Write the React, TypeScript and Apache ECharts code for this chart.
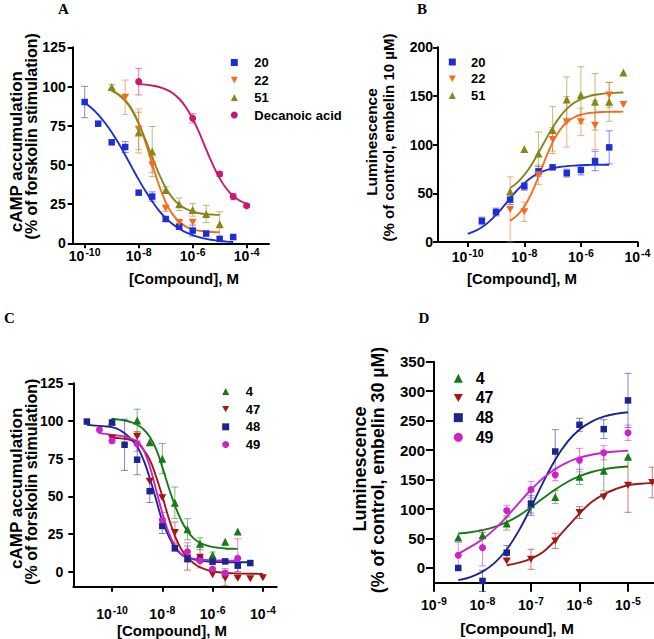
import { useEffect, useRef } from "react";
import * as echarts from "echarts";

const FONT = '"Liberation Sans", Arial, sans-serif';

// ---------- Panel A (cAMP, compounds 20, 22, 51, decanoic acid) ----------
const a20X = [-10, -9.5, -9, -8.5, -8, -7.5, -7, -6.5, -6, -5.5, -5, -4.5];
const a20Y = [90.1, 76.3, 64.4, 61.4, 32.3, 29.8, 15.5, 10.6, 8.1, 6.2, 2.8, 4.0];
const a20E = [10, 0, 0, 3.5, 0, 3, 1.5, 1.5, 3.5, 0, 0, 0];
const a22X = [-8.5, -8, -7.5, -7, -6.5, -6];
const a22Y = [93.1, 72.7, 50, 22.3, 13.2, 13.4];
const a22E = [11, 13, 5, 2, 1.5, 0];
const a51X = [-9, -8, -7.5, -7, -6.5, -6, -5.5, -5];
const a51Y = [99.7, 70.6, 58.5, 34, 24.9, 21.3, 18.7, 12.1];
const a51E = [1.5, 13, 16, 2, 4, 4, 5.5, 8];
const aDecX = [-8, -6, -5, -4.5, -4];
const aDecY = [103.1, 79.7, 44.2, 29.8, 24];
const aDecE = [8.5, 3, 1.5, 2, 1];

// fitted curves, read every quarter decade
const a20FitX = [-10, -9.75, -9.5, -9.25, -9, -8.75, -8.5, -8.25, -8, -7.75, -7.5, -7.25, -7, -6.75, -6.5, -6.25, -6, -5.75, -5.5, -5.25, -5, -4.75, -4.5];
const a20FitY = [89.6, 86.3, 82.1, 76.9, 70.8, 63.9, 56.3, 48.4, 40.6, 33.3, 26.7, 20.9, 16.2, 12.3, 9.3, 6.9, 5.2, 3.8, 2.8, 2.1, 1.5, 1.1, 0.8];
const a22FitX = [-9, -8.75, -8.5, -8.25, -8, -7.75, -7.5, -7.25, -7, -6.75, -6.5, -6.25, -6, -5.75, -5.5, -5.25, -5];
const a22FitY = [97.3, 95.1, 91.5, 85.5, 76.4, 64.5, 50.6, 37.2, 26.3, 18.6, 13.7, 10.65, 8.9, 8.0, 7.5, 7.2, 7.0];
const a51FitX = [-9, -8.75, -8.5, -8.25, -8, -7.75, -7.5, -7.25, -7, -6.75, -6.5, -6.25, -6, -5.75, -5.5, -5.25, -5];
const a51FitY = [97.3, 94.8, 90.8, 84.9, 76.5, 66.1, 54.9, 44.3, 35.4, 29.0, 24.7, 21.9, 20.3, 19.2, 18.6, 18.3, 18.1];
const aDecFitX = [-8, -7.75, -7.5, -7.25, -7, -6.75, -6.5, -6.25, -6, -5.75, -5.5, -5.25, -5, -4.75, -4.5, -4.25, -4];
const aDecFitY = [101.5, 101.2, 100.6, 99.7, 98.2, 95.9, 92.2, 86.8, 79.4, 70.2, 59.9, 50, 41.4, 34.8, 30.2, 27.1, 25.1];

// ---------- Panel B (luminescence, embelin 10 µM) ----------
const b20X = [-9.5, -9, -8.5, -8, -7.5, -7, -6.5, -6, -5.5, -5];
const b20Y = [21.6, 30.8, 43.5, 57.2, 72.6, 76.7, 70.8, 73.9, 83.2, 97.2];
const b20E = [4, 4, 5, 4, 5, 0, 4, 5, 10, 17];
const b22X = [-8.5, -8, -7.5, -7, -6.5, -6, -5.5, -5, -4.5];
const b22Y = [33.5, 31.1, 69.1, 105.4, 123.5, 123.5, 120, 151, 141.3];
const b22E = [33.5, 10, 10, 12, 26, 14, 25, 13, 0];
const b51X = [-8.5, -8, -7.5, -7, -6.5, -6, -5.5, -5, -4.5];
const b51Y = [52, 95.5, 91, 115, 146.5, 151, 144, 144, 174.2];
const b51E = [0, 0, 22, 24, 23, 29, 29, 20, 0];

const b20FitX = [-10, -9.75, -9.5, -9.25, -9, -8.75, -8.5, -8.25, -8, -7.75, -7.5, -7.25, -7, -6.75, -6.5, -6.25, -6, -5.75, -5.5, -5.25, -5];
const b20FitY = [8.4, 11.2, 15.2, 20.7, 27.8, 36, 44.8, 53.2, 60.5, 66.3, 70.6, 73.6, 75.7, 77.1, 77.9, 78.5, 78.9, 79.1, 79.3, 79.35, 79.4];
const b22FitX = [-8.5, -8.25, -8, -7.75, -7.5, -7.25, -7, -6.75, -6.5, -6.25, -6, -5.75, -5.5, -5.25, -5, -4.75, -4.5];
const b22FitY = [21.9, 27.4, 36.4, 49.7, 67, 85.7, 102.3, 114.8, 123, 127.9, 130.7, 132.2, 133, 133.5, 133.7, 133.8, 133.9];
const b51FitX = [-8.5, -8.25, -8, -7.75, -7.5, -7.25, -7, -6.75, -6.5, -6.25, -6, -5.75, -5.5, -5.25, -5, -4.75, -4.5];
const b51FitY = [55.4, 61, 68.9, 79.2, 91.6, 104.8, 117.5, 128.3, 136.7, 142.7, 146.8, 149.4, 151.2, 152.2, 152.9, 153.3, 153.6];

// ---------- Panel C (cAMP, compounds 4, 47, 48, 49) ----------
const c4X = [-10, -9, -8.5, -8, -7.5, -7, -6.5, -6, -5.5, -5];
const c4Y = [99.6, 100.3, 85.8, 75, 45.7, 28.1, 18.5, 11, 19.8, 26.6];
const c4E = [0, 7.5, 0, 10, 10.5, 7, 4, 2, 0, 0];
const c47X = [-10, -9, -8.5, -8, -7.5, -7, -6.5, -6, -5.5, -5, -4.5, -4];
const c47Y = [88.6, 89.7, 60, 49, 25.9, 9, 9.5, -2, -4.4, -4.4, -4.8, -4];
const c47E = [2, 3, 0, 0, 7, 8, 7, 0, 5, 0, 0, 0];
const c48X = [-11, -10, -9.5, -9, -8.5, -8, -7.5, -7, -6.5, -6, -5.5, -5, -4.5];
const c48Y = [99.6, 99, 84.2, 74.3, 53.4, 30.3, 15.6, 8.4, 8, 6.6, 6.8, 4, 5.7];
const c48E = [0, 0, 17, 10, 7.5, 5, 2, 2, 0, 0, 0, 4, 0];
const c49X = [-10.5, -10, -9, -8, -7, -6.5, -6, -5.5, -5];
const c49Y = [94.1, 86.9, 84.9, 34.3, 13.2, 7.3, 1.8, -0.9, 8.8];
const c49E = [0, 2, 5, 5, 6, 0, 0, 3, 13];

const c4FitX = [-10, -9.75, -9.5, -9.25, -9, -8.75, -8.5, -8.25, -8, -7.75, -7.5, -7.25, -7, -6.75, -6.5, -6.25, -6, -5.75, -5.5, -5.25, -5];
const c4FitY = [101.5, 101, 100.3, 99.2, 97.5, 94.5, 89.5, 81.5, 69.5, 56, 44, 34.1, 26.9, 22.1, 19.1, 17.4, 16.4, 15.8, 15.4, 15.2, 15.1];
const c47FitX = [-10, -9.75, -9.5, -9.25, -9, -8.75, -8.5, -8.25, -8, -7.75, -7.5, -7.25, -7, -6.75, -6.5, -6.25, -6, -5.75, -5.5, -5.25, -5, -4.75, -4.5, -4.25, -4];
const c47FitY = [89, 88.6, 88.2, 87.3, 85.8, 81, 74.3, 63.3, 50.1, 35.8, 23.7, 15, 9.5, 5.6, 2.9, 1.3, 0.2, -0.4, -0.9, -1.1, -1.3, -1.35, -1.4, -1.45, -1.5];
const c48FitX = [-11, -10.75, -10.5, -10.25, -10, -9.75, -9.5, -9.25, -9, -8.75, -8.5, -8.25, -8, -7.75, -7.5, -7.25, -7, -6.75, -6.5, -6.25, -6, -5.75, -5.5, -5.25, -5, -4.75, -4.5];
const c48FitY = [97.4, 97.1, 96.7, 96.4, 95.9, 94.5, 91.9, 88.2, 83.1, 74.3, 62.2, 48, 33.6, 23.7, 16, 11.6, 9.5, 8.2, 7.3, 6.9, 6.6, 6.4, 6.3, 6.25, 6.2, 6.2, 6.2];
const c49FitX = [-10.5, -10.25, -10, -9.75, -9.5, -9.25, -9, -8.75, -8.5, -8.25, -8, -7.75, -7.5, -7.25, -7, -6.75, -6.5, -6.25, -6, -5.75, -5.5, -5.25, -5];
const c49FitY = [91.9, 91.4, 90.8, 90.3, 89.7, 88.3, 86.4, 81, 70, 54.5, 39.1, 26, 17.2, 11.7, 9.5, 8.6, 8, 7.7, 7.5, 7.4, 7.3, 7.3, 7.3];

// ---------- Panel D (luminescence, embelin 30 µM) ----------
const d4X = [-8.5, -8, -7.5, -7, -6.5, -6, -5.5, -5];
const d4Y = [51.5, 55.5, 75.3, 108.2, 120.6, 154.6, 164.8, 188.6];
const d4E = [0, 5, 11, 15, 11, 13, 34, 0];
const d47X = [-7.5, -7, -6.5, -6, -5.5, -5, -4.5];
const d47Y = [11.9, 14.7, 45.9, 94, 120.6, 140.4, 145];
const d47E = [0, 17, 13, 10, 0, 46, 26];
const d48X = [-8.5, -8, -7.5, -7, -6.5, -6, -5.5, -5];
const d48Y = [0, -22, 26, 109.3, 197.6, 243, 235.6, 284.3];
const d48E = [0, 18, 12, 20, 37, 11, 16, 46];
const d49X = [-8.5, -8, -7.5, -7, -6.5, -6, -5.5, -5];
const d49Y = [21.5, 34.5, 97.4, 133, 158, 183, 195.4, 229.4];
const d49E = [22, 31, 9, 14, 10, 20, 12, 13];

const d4FitX = [-8.5, -8.25, -8, -7.75, -7.5, -7.25, -7, -6.75, -6.5, -6.25, -6, -5.75, -5.5, -5.25, -5];
const d4FitY = [58.4, 60.7, 64.2, 69.7, 77.8, 88.9, 102.8, 118.2, 133, 145.9, 155.8, 162.8, 167.4, 170.4, 172.2];
const d47FitX = [-7.5, -7.25, -7, -6.75, -6.5, -6.25, -6, -5.75, -5.5, -5.25, -5, -4.75, -4.5];
const d47FitY = [4.5, 9, 15.9, 27.2, 47, 69.7, 92.3, 112, 125, 134, 140.4, 143, 144.4];
const d48FitX = [-8.5, -8.25, -8, -7.75, -7.5, -7.25, -7, -6.75, -6.5, -6.25, -6, -5.75, -5.5, -5.25, -5];
const d48FitY = [-20.7, -15.4, -6.2, 8.6, 31.4, 63.4, 103, 145.3, 183.7, 213.8, 234.9, 248.4, 256.7, 261.5, 264.3];
const d49FitX = [-8.5, -8.25, -8, -7.75, -7.5, -7.25, -7, -6.75, -6.5, -6.25, -6, -5.75, -5.5, -5.25, -5];
const d49FitY = [24, 35.7, 48.7, 66, 87, 110.2, 132.7, 152.4, 168, 179.3, 187.1, 192.2, 195.5, 197.6, 198.9];

// ---------- tick values (log10 exponents / percentages) ----------
const xTicksABC = [-10, -8, -6, -4];
const xTicksD = [-9, -8, -7, -6, -5];
const yTicksA = [0, 25, 50, 75, 100, 125];
const yTicksB = [0, 50, 100, 150, 200];
const yTicksC = [0, 25, 50, 75, 100, 125];
const yTicksD = [0, 50, 100, 150, 200, 250, 300, 350];

// ---------- styling ----------
const BLUE = "#1f2ed0";
const ORANGE = "#f46c20";
const OLIVE = "#86861a";
const CRIMSON = "#cc1670";
const GREEN = "#177a17";
const DRED = "#a31616";
const NAVY = "#1c2490";
const MAGENTA = "#cc22cc";

const SQ = "rect";
const UP = "triangle";
const DOWN = "path://M0,0L10,0L5,9Z";
const CIRC = "circle";

function rgba(hex: string, a: number) {
  const n = parseInt(hex.slice(1), 16);
  return `rgba(${(n >> 16) & 255},${(n >> 8) & 255},${n & 255},${a})`;
}

function zip(xs: number[], ys: number[]) {
  return xs.map((x, i) => [x, ys[i]]);
}

function fit(id: string, xs: number[], ys: number[], color: string, g: number) {
  return {
    type: "line",
    name: id + " fit",
    xAxisIndex: g,
    yAxisIndex: g,
    data: zip(xs, ys),
    smooth: 0.4,
    showSymbol: false,
    symbol: "none",
    silent: true,
    lineStyle: { color, width: 1.9 },
    z: 2,
  };
}

function errs(id: string, xs: number[], ys: number[], es: number[], color: string, g: number) {
  const stroke = rgba(color, 0.55);
  return {
    type: "custom",
    name: id + " err",
    xAxisIndex: g,
    yAxisIndex: g,
    silent: true,
    z: 3,
    data: xs.map((x, i) => [x, ys[i], es[i]]),
    encode: { x: 0, y: 1 },
    renderItem: (_p: any, api: any) => {
      const x = api.value(0);
      const y = api.value(1);
      const e = api.value(2);
      if (!e) return null;
      const p1 = api.coord([x, y + e]);
      const p2 = api.coord([x, y - e]);
      const hw = 3.5;
      const style = { stroke, lineWidth: 1 };
      return {
        type: "group",
        children: [
          { type: "line", shape: { x1: p1[0], y1: p1[1], x2: p2[0], y2: p2[1] }, style },
          { type: "line", shape: { x1: p1[0] - hw, y1: p1[1], x2: p1[0] + hw, y2: p1[1] }, style },
          { type: "line", shape: { x1: p2[0] - hw, y1: p2[1], x2: p2[0] + hw, y2: p2[1] }, style },
        ],
      };
    },
  };
}

function pts(name: string, xs: number[], ys: number[], color: string, symbol: string, size: any, g: number) {
  return {
    type: "scatter",
    name,
    xAxisIndex: g,
    yAxisIndex: g,
    data: zip(xs, ys),
    symbol,
    symbolSize: size,
    itemStyle: { color, opacity: 1 },
    z: 4,
  };
}

function group(name: string, xs: number[], ys: number[], es: number[], fx: number[], fy: number[], color: string, symbol: string, size: any, g: number) {
  return [fit(name + g, fx, fy, color, g), errs(name + g, xs, ys, es, color, g), pts(name, xs, ys, color, symbol, size, g)];
}

const supRich = (big: number, small: number) => ({
  b: { fontSize: big, fontWeight: "bold", fontFamily: FONT, color: "#000" },
  s: { fontSize: small, fontWeight: "bold", fontFamily: FONT, color: "#000", padding: [0, 0, 8, 1] },
});

function xAxis(g: number, min: number, max: number, ticks: number[], tickLen: number, margin: number) {
  return {
    type: "value",
    gridIndex: g,
    min,
    max,
    axisLine: { show: true, onZero: false, lineStyle: { color: "#000", width: 2 } },
    axisTick: { show: true, length: tickLen, lineStyle: { color: "#000", width: 2 }, customValues: ticks },
    axisLabel: {
      customValues: ticks,
      margin,
      formatter: (v: number) => `{b|10}{s|${v}}`,
      rich: supRich(14, 10.5),
    },
    splitLine: { show: false },
  };
}

function yAxis(g: number, min: number, max: number, ticks: number[], tickLen: number, margin: number, fs: number) {
  return {
    type: "value",
    gridIndex: g,
    min,
    max,
    axisLine: { show: true, onZero: false, lineStyle: { color: "#000", width: 2 } },
    axisTick: { show: true, length: tickLen, lineStyle: { color: "#000", width: 2 }, customValues: ticks },
    axisLabel: {
      customValues: ticks,
      margin,
      fontSize: fs,
      fontWeight: "bold",
      fontFamily: FONT,
      color: "#000",
    },
    splitLine: { show: false },
  };
}

function legend(names: string[], left: number, top: number, fs: number, icon: number, gap: number, pad: number) {
  return {
    data: names,
    orient: "vertical",
    left,
    top,
    padding: 0,
    itemWidth: icon,
    itemHeight: icon,
    itemGap: gap,
    selectedMode: false,
    textStyle: { fontSize: fs, fontWeight: "bold", fontFamily: FONT, color: "#000", lineHeight: fs, padding: [0, 0, 0, pad] },
  };
}

function label(text: string, x: number, y: number, size: number, rotate = false, serif = false) {
  const font = `bold ${size}px ${serif ? '"Liberation Serif", "Times New Roman", serif' : FONT}`;
  return {
    type: "text",
    x,
    y,
    rotation: rotate ? Math.PI / 2 : 0,
    silent: true,
    style: {
      text,
      font,
      fill: "#000",
      align: "center",
      verticalAlign: "middle",
      textAlign: "center",
      textVerticalAlign: "middle",
    },
  };
}

const option: any = {
  animation: false,
  backgroundColor: "#fff",
  grid: [
    { left: 72.7, top: 47.3, width: 196.3, height: 196, outerBoundsMode: "none" },
    { left: 438, top: 47.3, width: 199.5, height: 194.7, outerBoundsMode: "none" },
    { left: 73.3, top: 383.3, width: 203.4, height: 203.4, outerBoundsMode: "none" },
    { left: 434, top: 361.7, width: 220, height: 221, outerBoundsMode: "none" },
  ],
  xAxis: [
    xAxis(0, -10.444, -3.174, xTicksABC, 5, 3),
    xAxis(1, -11.05, -4, xTicksABC, 5, 5.5),
    xAxis(2, -11.54, -3.45, xTicksABC, 5, 18),
    xAxis(3, -9, -4.464, xTicksD, 9, 13),
  ],
  yAxis: [
    yAxis(0, 0, 125, yTicksA, 5, 7, 14),
    yAxis(1, 0, 200, yTicksB, 5, 5, 14),
    yAxis(2, -10, 125, yTicksC, 5, 10, 14),
    yAxis(3, -25, 350, yTicksD, 8, 9, 15),
  ],
  legend: [
    legend(["20", "22", "51", "Decanoic acid"], 230.8, 56, 13, 7, 4.5, 11.5),
    legend(["20", "22", "51"], 448.8, 55.5, 13, 7, 3.75, 10.2),
    legend(["4", "47", "48", "49"], 222.2, 385, 13, 7, 4.67, 11.5),
    legend(["4", "47", "48", "49"], 453.8, 370.3, 16, 9, 3.67, 7.9),
  ],
  graphic: [
    label("A", 63.3, 8.7, 15, false, true),
    label("B", 422, 8.7, 15, false, true),
    label("C", 9.5, 318.3, 15, false, true),
    label("D", 423.8, 318.3, 15, false, true),
    label("[Compound], M", 184, 278.3, 15),
    label("[Compound], M", 522, 278.3, 15),
    label("[Compound], M", 172, 630, 15),
    label("[Compound], M", 517, 628.3, 15.5),
    label("cAMP accumulation", 16.7, 151.7, 17, true),
    label("(% of forskolin stimulation)", 31.5, 136.3, 16, true),
    label("Luminescence", 371, 142, 15.5, true),
    label("(% of control, embelin 10 µM)", 388, 137.5, 15, true),
    label("cAMP accumulation", 16.7, 488.3, 17, true),
    label("(% of forskolin stimulation)", 31.3, 481.7, 16, true),
    label("Luminescence", 360, 469, 18, true),
    label("(% of control, embelin 30 µM)", 378, 470, 17.8, true),
  ],
  series: [
    ...group("20", a20X, a20Y, a20E, a20FitX, a20FitY, BLUE, SQ, 6.5, 0),
    ...group("22", a22X, a22Y, a22E, a22FitX, a22FitY, ORANGE, DOWN, [8, 7], 0),
    ...group("51", a51X, a51Y, a51E, a51FitX, a51FitY, OLIVE, UP, 8, 0),
    ...group("Decanoic acid", aDecX, aDecY, aDecE, aDecFitX, aDecFitY, CRIMSON, CIRC, 7, 0),
    ...group("20", b20X, b20Y, b20E, b20FitX, b20FitY, BLUE, SQ, 6.5, 1),
    ...group("22", b22X, b22Y, b22E, b22FitX, b22FitY, ORANGE, DOWN, [8, 7], 1),
    ...group("51", b51X, b51Y, b51E, b51FitX, b51FitY, OLIVE, UP, 8, 1),
    ...group("4", c4X, c4Y, c4E, c4FitX, c4FitY, GREEN, UP, 8, 2),
    ...group("47", c47X, c47Y, c47E, c47FitX, c47FitY, DRED, DOWN, [8, 7], 2),
    ...group("48", c48X, c48Y, c48E, c48FitX, c48FitY, NAVY, SQ, 6.5, 2),
    ...group("49", c49X, c49Y, c49E, c49FitX, c49FitY, MAGENTA, CIRC, 7, 2),
    ...group("4", d4X, d4Y, d4E, d4FitX, d4FitY, GREEN, UP, 8, 3),
    ...group("47", d47X, d47Y, d47E, d47FitX, d47FitY, DRED, DOWN, [8, 7], 3),
    ...group("48", d48X, d48Y, d48E, d48FitX, d48FitY, NAVY, SQ, 6.5, 3),
    ...group("49", d49X, d49Y, d49E, d49FitX, d49FitY, MAGENTA, CIRC, 7, 3),
  ],
};

export default function App() {
  const ref = useRef<HTMLDivElement>(null);
  useEffect(() => {
    if (!ref.current) return;
    const chart = echarts.init(ref.current, null, { renderer: "svg" });
    chart.setOption(option);
    return () => chart.dispose();
  }, []);
  return (
    <div
      ref={ref}
      style={{ position: "fixed", left: 0, top: 0, width: 654, height: 639, background: "#fff" }}
    />
  );
}
